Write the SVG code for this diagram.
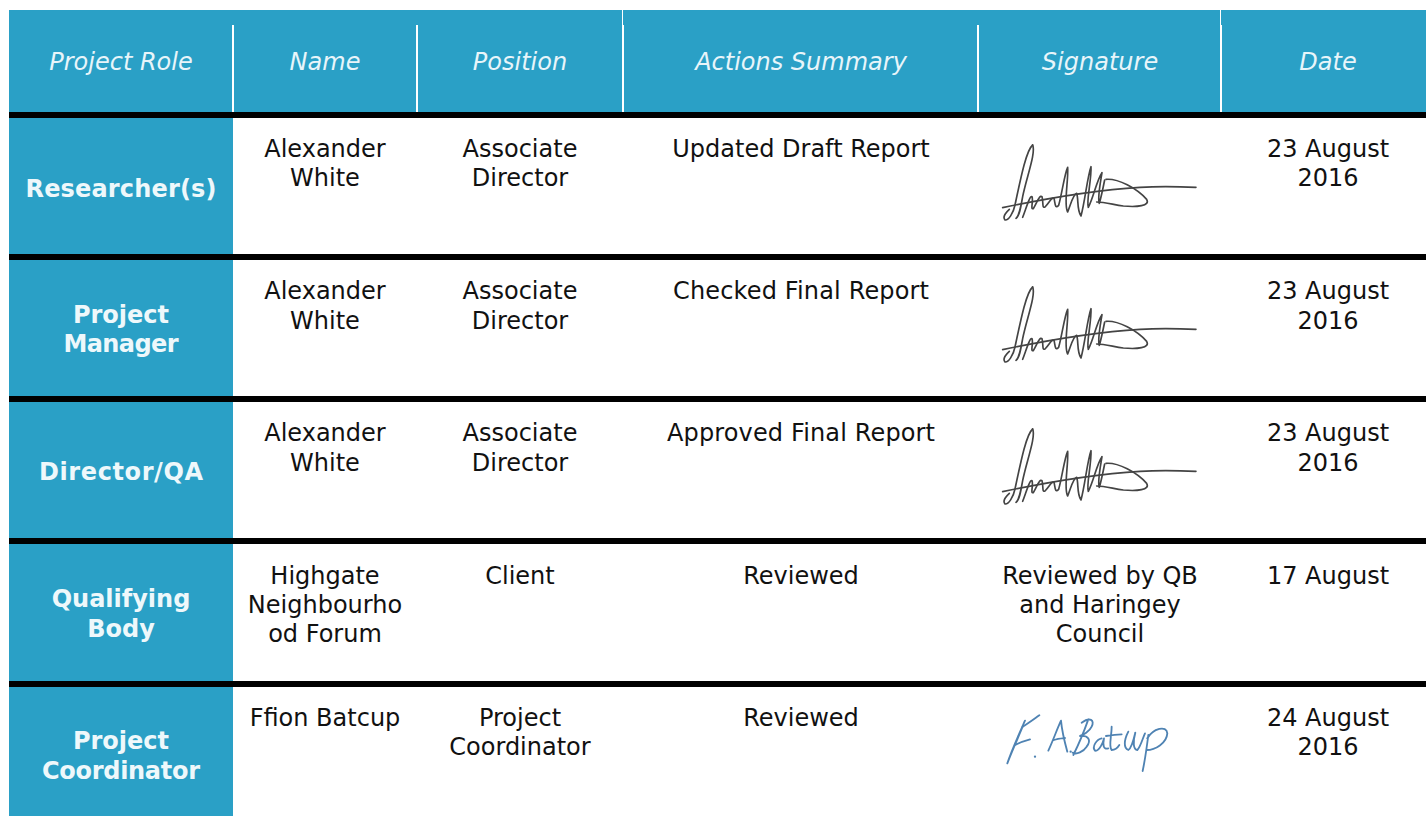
<svg xmlns="http://www.w3.org/2000/svg" xmlns:xlink="http://www.w3.org/1999/xlink" width="1426" height="816" viewBox="0 0 1426 816">
<style>
text{font-family:"DejaVu Sans",Verdana,sans-serif;text-anchor:middle}
.h{font-size:24px;font-style:italic;fill:#e8f5fa}
.b{font-size:24px;font-weight:bold;fill:#eef8fb}
.t{font-size:24px;fill:#111}
.bl{fill:#2aa0c6}
.k{fill:#000}
.w{fill:#fff}
.s1{fill:none;stroke:#444;stroke-width:5;stroke-linecap:round;stroke-linejoin:round}
.s2{fill:none;stroke:#4f83b3;stroke-width:5.5;stroke-linecap:round;stroke-linejoin:round}
</style>
<defs>
<g id="sig" transform="translate(980 130) scale(.3333)">
<path class="s1" d="M68 233C200 205 350 180 480 172C550 168 600 170 648 172"/>
<path class="s1" d="M378 148C415 145 470 175 500 208C512 228 470 232 430 228C400 224 375 216 350 216"/>
<path class="s1" d="M158 45C140 60 125 130 105 225C100 250 85 272 75 270C68 262 75 250 88 238"/>
<path class="s1" d="M158 45C168 70 140 140 128 200C122 235 118 258 108 265"/>
<path class="s1" d="M128 262C140 230 150 195 156 200C161 212 150 240 160 236C175 208 180 195 186 200C191 215 185 236 195 231C210 215 215 200 222 205C226 220 224 238 236 226C246 190 254 130 263 112C266 150 250 225 263 246C272 225 278 195 290 190C296 205 290 240 303 258C315 215 322 140 333 110C335 150 318 215 325 232C340 205 350 150 366 128C360 165 352 205 358 220C364 200 370 170 374 150"/>
</g>
</defs>
<g id="table">
<rect class="bl" x="9" y="10" width="1417" height="102"/>
<rect class="bl" x="9" y="118" width="224" height="698"/>
<rect class="k" x="9" y="112" width="1417" height="6"/>
<rect class="k" x="9" y="254" width="1417" height="6"/>
<rect class="k" x="9" y="396" width="1417" height="6"/>
<rect class="k" x="9" y="538" width="1417" height="6"/>
<rect class="k" x="9" y="681" width="1417" height="6"/>
<rect class="w" x="232" y="25" width="2" height="87"/>
<rect class="w" x="416" y="25" width="2" height="87"/>
<rect class="w" x="622" y="10" width="1" height="15"/>
<rect class="w" x="622" y="25" width="2" height="87"/>
<rect class="w" x="977" y="25" width="2" height="87"/>
<rect class="w" x="1220" y="10" width="1" height="15"/>
<rect class="w" x="1220" y="25" width="2" height="87"/>
</g>
<g id="header">
<text class="h" x="121" y="70">Project Role</text>
<text class="h" x="325" y="70">Name</text>
<text class="h" x="520" y="70">Position</text>
<text class="h" x="801" y="70">Actions Summary</text>
<text class="h" x="1100" y="70">Signature</text>
<text class="h" x="1328" y="70">Date</text>
</g>
<g id="row1">
<text class="b" x="121" y="197" textLength="191">Researcher(s)</text>
<text class="t" x="325" y="157">Alexander</text><text class="t" x="325" y="186">White</text>
<text class="t" x="520" y="157">Associate</text><text class="t" x="520" y="186">Director</text>
<text class="t" x="801" y="157">Updated Draft Report</text>
<use xlink:href="#sig" href="#sig"/>
<text class="t" x="1328" y="157">23 August</text><text class="t" x="1328" y="186">2016</text>
</g>
<g id="row2">
<text class="b" x="121" y="323">Project</text><text class="b" x="121" y="352" textLength="115">Manager</text>
<text class="t" x="325" y="299">Alexander</text><text class="t" x="325" y="329">White</text>
<text class="t" x="520" y="299">Associate</text><text class="t" x="520" y="329">Director</text>
<text class="t" x="801" y="299" textLength="256">Checked Final Report</text>
<use xlink:href="#sig" href="#sig" y="142"/>
<text class="t" x="1328" y="299">23 August</text><text class="t" x="1328" y="329">2016</text>
</g>
<g id="row3">
<text class="b" x="121" y="480" textLength="164">Director/QA</text>
<text class="t" x="325" y="441">Alexander</text><text class="t" x="325" y="471">White</text>
<text class="t" x="520" y="441">Associate</text><text class="t" x="520" y="471">Director</text>
<text class="t" x="801" y="441" textLength="268">Approved Final Report</text>
<use xlink:href="#sig" href="#sig" y="284"/>
<text class="t" x="1328" y="441">23 August</text><text class="t" x="1328" y="471">2016</text>
</g>
<g id="row4">
<text class="b" x="121" y="607">Qualifying</text><text class="b" x="121" y="637">Body</text>
<text class="t" x="325" y="584">Highgate</text><text class="t" x="325" y="613">Neighbourho</text><text class="t" x="325" y="642">od Forum</text>
<text class="t" x="520" y="584">Client</text>
<text class="t" x="801" y="584">Reviewed</text>
<text class="t" x="1100" y="584">Reviewed by QB</text><text class="t" x="1100" y="613">and Haringey</text><text class="t" x="1100" y="642">Council</text>
<text class="t" x="1328" y="584">17 August</text>
</g>
<g id="row5">
<text class="b" x="121" y="749">Project</text><text class="b" x="121" y="779" textLength="158">Coordinator</text>
<text class="t" x="325" y="726">Ffion Batcup</text>
<text class="t" x="520" y="726">Project</text><text class="t" x="520" y="755">Coordinator</text>
<text class="t" x="801" y="726">Reviewed</text>
<g transform="translate(980 700) scale(.3333)">
<path class="s2" d="M135 62C118 100 95 150 82 190C95 155 118 105 130 75"/>
<path class="s2" d="M128 80C145 70 165 55 178 46M105 135C118 128 135 122 150 118"/>
<circle cx="165" cy="170" r="3.5" fill="#4f83b3"/>
<path class="s2" d="M205 152C220 120 232 85 243 62C246 95 255 130 262 155M222 120C232 116 245 115 255 114"/>
<circle cx="272" cy="155" r="3.5" fill="#4f83b3"/>
<path class="s2" d="M325 58C310 100 295 135 280 165M305 68C330 50 345 60 335 80C328 95 310 105 300 108C325 105 335 120 320 140C310 155 290 165 278 158"/>
<path class="s2" d="M365 115C350 118 335 140 345 152C358 155 370 125 372 115C368 135 370 150 385 145"/>
<path class="s2" d="M395 80C395 110 385 140 395 150C405 150 412 145 418 135M378 108C395 105 410 103 425 103"/>
<path class="s2" d="M445 95C432 120 430 145 445 150C455 145 462 115 466 98C458 125 460 150 472 150C482 140 488 115 495 100"/>
<path class="s2" d="M505 105C500 145 495 180 488 213M502 115C520 85 560 75 562 100C560 130 525 150 500 150"/>
</g>
<text class="t" x="1328" y="726">24 August</text><text class="t" x="1328" y="755">2016</text>
</g>
</svg>
